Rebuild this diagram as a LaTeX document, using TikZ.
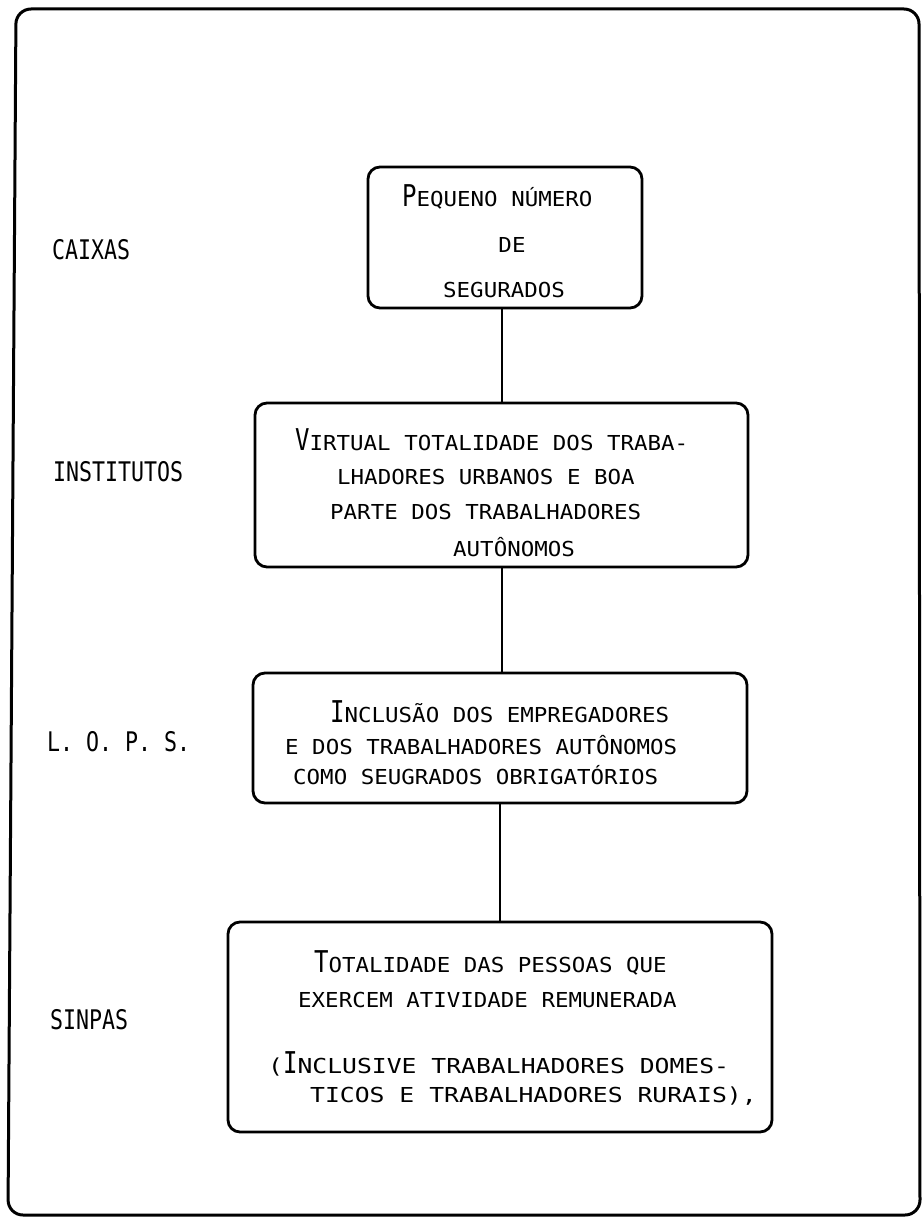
\documentclass[tikz,border=0pt]{standalone}
\usepackage{fontspec}
% typewriter-like faces: wide small letters inside the boxes, narrow tall capitals
\newfontfamily\boxfont[FakeStretch=1.09]{DejaVu Sans Mono}
\newfontfamily\boxwidefont[FakeStretch=1.2]{DejaVu Sans Mono}
\newfontfamily\capfont[FakeStretch=0.8]{DejaVu Sans Mono}
% small-caps look: first letter set larger than the rest
\newcommand{\leadcap}[1]{{\capfont\fontsize{30}{30}\selectfont #1}}
\begin{document}
\begin{tikzpicture}[x=1pt,y=-1pt,
  every node/.style={inner sep=0pt},
  txt/.style={anchor=west, font=\boxfont\fontsize{20.6}{24}\selectfont},
  widetxt/.style={anchor=west, font=\boxwidefont\fontsize{20.6}{24}\selectfont},
  lbl/.style={anchor=west, font=\capfont\fontsize{27}{30}\selectfont},
  frame/.style={draw, line width=3pt, rounded corners=15pt},
  stage/.style={draw, line width=2.8pt, rounded corners=12pt},
  link/.style={draw, line width=2pt}]
  \useasboundingbox (0,0) rectangle (921,1217);
  \fill[white] (0,0) rectangle (921,1217);
  % outer frame (its left side leans slightly)
  \path[frame] (16,9) -- (919,9) -- (920,1215) -- (8,1215) -- cycle;

  % stage boxes
  \node[stage, minimum width=274pt, minimum height=141pt] (b1) at (505,237.5) {};
  \node[stage, minimum width=493pt, minimum height=164pt] (b2) at (501.5,485) {};
  \node[stage, minimum width=494pt, minimum height=130pt] (b3) at (500,738) {};
  \node[stage, minimum width=544pt, minimum height=210pt] (b4) at (500,1027) {};

  % vertical links between stages
  \path[link] (b1.south -| 502,0) -- (b2.north -| 502,0);
  \path[link] (b2.south -| 502,0) -- (b3.north -| 502,0);
  \path[link] (b3.south -| 500,0) -- (b4.north -| 500,0);

  % box texts
  \node[txt] (t11) at (402,197) {\leadcap{P}EQUENO NÚMERO};
  \node[txt, anchor=center] (t12) at (512,245) {DE};
  \node[txt] (t13) at (443,290) {SEGURADOS};

  \node[txt] (t21) at (295,440) {\leadcap{V}IRTUAL TOTALIDADE DOS TRABA-};
  \node[txt] (t22) at (337,477) {LHADORES URBANOS E BOA};
  \node[txt] (t23) at (330,512) {PARTE DOS TRABALHADORES};
  \node[txt] (t24) at (453,547) {AUTÔNOMOS};

  \node[txt] (t31) at (330,712) {\leadcap{I}NCLUSÃO DOS EMPREGADORES};
  \node[txt] (t32) at (285,745) {E DOS TRABALHADORES AUTÔNOMOS};
  \node[txt] (t33) at (293,775) {COMO SEUGRADOS OBRIGATÓRIOS};

  \node[txt] (t41) at (314,963) {\leadcap{T}OTALIDADE DAS PESSOAS QUE};
  \node[txt] (t42) at (298,1000) {EXERCEM ATIVIDADE REMUNERADA};
  \node[widetxt] (t43) at (268,1064) {(\leadcap{I}NCLUSIVE TRABALHADORES DOMES-};
  \node[widetxt] (t44) at (310,1096) {TICOS E TRABALHADORES RURAIS),};

  % level labels
  \node[lbl] (l1) at (52,250) {CAIXAS};
  \node[lbl] (l2) at (53,472) {INSTITUTOS};
  \node[lbl] (l3) at (47,742) {L. O. P. S.};
  \node[lbl] (l4) at (50,1020) {SINPAS};
\end{tikzpicture}
\end{document}
